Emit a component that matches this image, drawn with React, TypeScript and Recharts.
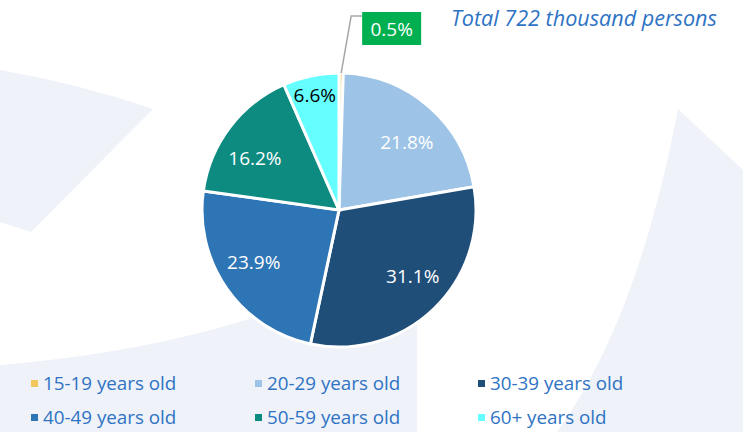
import React from 'react';
import { PieChart, Pie, Cell, Legend } from 'recharts';

const ageGroups = ['15-19 years old', '20-29 years old', '30-39 years old', '40-49 years old', '50-59 years old', '60+ years old'];
const shares = [0.5, 21.8, 31.1, 23.9, 16.2, 6.6];
const colors = ['#F2C75C', '#9DC3E6', '#1F4E79', '#2E75B6', '#0E8B80', '#66FFFF'];
const totalNote = 'Total 722 thousand persons';

// label placement tweaks (fraction of radius, clockwise shift in degrees)
const labelRadius = [0, 0.7, 0.72, 0.73, 0.72, 0.86];
const labelShift = [0, 4, -4.5, 3.5, -5.6, 0];

const chartData = ageGroups.map((name, i) => ({ name, value: shares[i], color: colors[i] }));

const FONT = '"Open Sans", sans-serif';
const TEXT_BLUE = '#2E73C4';
const RAD = Math.PI / 180;

const renderLabel = (props: any) => {
  const { cx, cy, midAngle, outerRadius, index, value } = props;
  const text = `${value.toFixed(1)}%`;
  if (index === 0) {
    // tiny slice: boxed callout with a leader line
    const ox = cx + outerRadius * Math.cos(-midAngle * RAD);
    const oy = cy + outerRadius * Math.sin(-midAngle * RAD);
    const ex = ox + 10;
    const ey = oy - 57;
    return (
      <g>
        <polyline points={`${ox},${oy} ${ex},${ey} ${ex + 11},${ey}`} fill="none" stroke="#A6A6A6" strokeWidth={1.5} />
        <rect x={ex + 11} y={ey - 4} width={59} height={33} fill="#00B050" />
        <text x={ex + 40.5} y={ey + 13} fill="#fff" fontSize={19} fontFamily={FONT} textAnchor="middle" dominantBaseline="central">
          {text}
        </text>
      </g>
    );
  }
  const r = outerRadius * labelRadius[index];
  const a = midAngle - labelShift[index];
  const x = cx + r * Math.cos(-a * RAD);
  const y = cy + r * Math.sin(-a * RAD);
  return (
    <text x={x} y={y} fill={index === 5 ? '#000' : '#fff'} fontSize={19} fontFamily={FONT} textAnchor="middle" dominantBaseline="central">
      {text}
    </text>
  );
};

const renderLegend = () => (
  <div style={{ display: 'grid', gridTemplateColumns: '224px 223px 224px', rowGap: 10, paddingLeft: 31 }}>
    {chartData.map((d) => (
      <div key={d.name} style={{ display: 'flex', alignItems: 'center', height: 24 }}>
        <span style={{ width: 7, height: 7, background: d.color, marginRight: 5 }} />
        <span style={{ color: TEXT_BLUE, fontSize: 18.8, fontFamily: FONT }}>{d.name}</span>
      </div>
    ))}
  </div>
);

const App: React.FC = () => {
  return (
    <div style={{ position: 'absolute', left: 0, top: 0, width: 743, height: 432, background: '#fff', overflow: 'hidden' }}>
      <svg width={743} height={432} style={{ position: 'absolute', left: 0, top: 0 }}>
        <path d="M0,70 Q80,84 153,109 L31,232 L0,222 Z" fill="#EFF2F8" />
        <path d="M0,365 Q250,345 417,245 L417,432 L0,432 Z" fill="#EFF2F8" />
        <path d="M678,109 L743,170 L743,432 L557,432 Q638,320 678,109 Z" fill="#EFF2F8" />
      </svg>
      <div style={{ position: 'absolute', left: 0, top: 0 }}>
        <PieChart width={743} height={432} margin={{ top: 0, right: 0, bottom: 0, left: 0 }}>
          <Pie
            data={chartData}
            dataKey="value"
            nameKey="name"
            cx={339}
            cy={210}
            outerRadius={137}
            startAngle={90}
            endAngle={-270}
            stroke="#fff"
            strokeWidth={3}
            label={renderLabel}
            labelLine={false}
            isAnimationActive={false}
          >
            {chartData.map((entry, index) => (
              <Cell key={`cell-${index}`} fill={entry.color} />
            ))}
          </Pie>
          <Legend content={renderLegend} wrapperStyle={{ left: 0, top: 371, width: 743 }} />
        </PieChart>
      </div>
      <div
        style={{
          position: 'absolute',
          left: 451,
          top: 3,
          color: TEXT_BLUE,
          fontStyle: 'italic',
          fontSize: 21.6,
          fontFamily: FONT,
          whiteSpace: 'nowrap',
        }}
      >
        {totalNote}
      </div>
    </div>
  );
};

export default App;
